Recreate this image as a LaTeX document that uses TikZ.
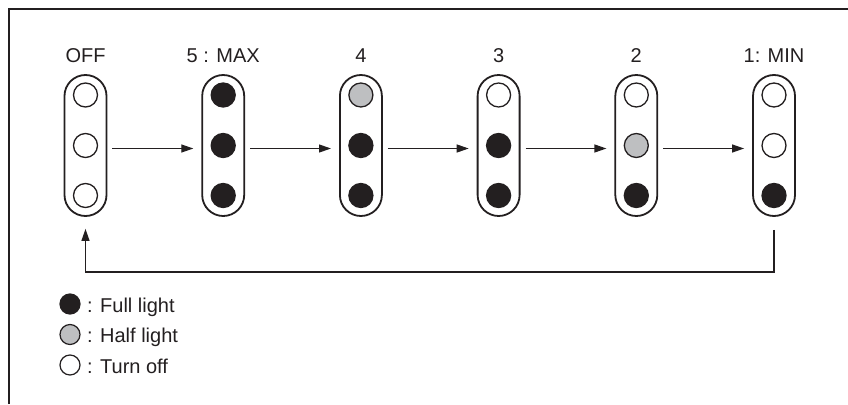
\documentclass[tikz,border=0pt]{standalone}
\usepackage{fontspec}
\setmainfont{Liberation Sans}
\usetikzlibrary{arrows.meta}
\definecolor{ink}{RGB}{35,31,32}
\definecolor{halfgray}{RGB}{190,191,193}
\tikzset{
  pill/.style={draw=ink, line width=1.8pt, rounded corners=21pt, minimum width=42pt, minimum height=141pt, inner sep=0pt},
  lamp/.style={circle, draw=ink, line width=1.3pt, minimum size=24pt, inner sep=0pt},
  full/.style={lamp, fill=ink},
  half/.style={lamp, fill=halfgray},
  off/.style={lamp, fill=white},
  leglamp/.style={circle, draw=ink, line width=1.2pt, minimum size=20pt, inner sep=0pt},
  lbl/.style={anchor=base, inner sep=0pt, font=\fontsize{20}{24}\selectfont, text=ink},
  legtxt/.style={anchor=base west, inner sep=0pt, font=\fontsize{20}{24}\selectfont, text=ink},
  arr/.style={draw=ink, line width=1.2pt, -{Triangle[length=12pt,width=8pt]}},
  frame/.style={draw=ink, line width=2pt}
}
\begin{document}
\begin{tikzpicture}[x=1pt,y=-1pt]
\useasboundingbox (0,0) rectangle (848,404);
\draw[frame] (9,404) -- (9,9.5) -- (848,9.5);
\foreach \i/\lab/\a/\b/\c in {1/OFF/off/off/off, 2/5 : MAX/full/full/full, 3/4/half/full/full, 4/3/off/full/full, 5/2/off/half/full, 6/1: MIN/off/off/full} {
  \pgfmathsetmacro{\cx}{85.5+137.7*(\i-1)}
  \node[pill] (p\i) at (\cx,145.5) {};
  \node[\a] (c\i a) at (\cx,95) {};
  \node[\b] (c\i b) at (\cx,145.5) {};
  \node[\c] (c\i c) at (\cx,195.5) {};
  \node[lbl] (t\i) at (\cx,63) {\lab};
}
\foreach \i [evaluate=\i as \j using int(\i+1)] in {1,...,5} {
  \draw[arr, shorten <=5pt, shorten >=8pt] ([yshift=-3pt]p\i.east) -- ([yshift=-3pt]p\j.west);
}
\draw[arr, shorten <=13pt, shorten >=12pt] (p6.south) -- ++(0,55) -| (p1.south);
\node[leglamp, fill=ink] (l1) at (70,304) {};
\node[leglamp, fill=halfgray] (l2) at (70,334.5) {};
\node[leglamp, fill=white] (l3) at (70,365) {};
\node[legtxt] (lt1) at (87,312) {: Full light};
\node[legtxt] (lt2) at (87,342.5) {: Half light};
\node[legtxt] (lt3) at (87,373) {: Turn off};
\end{tikzpicture}
\end{document}
